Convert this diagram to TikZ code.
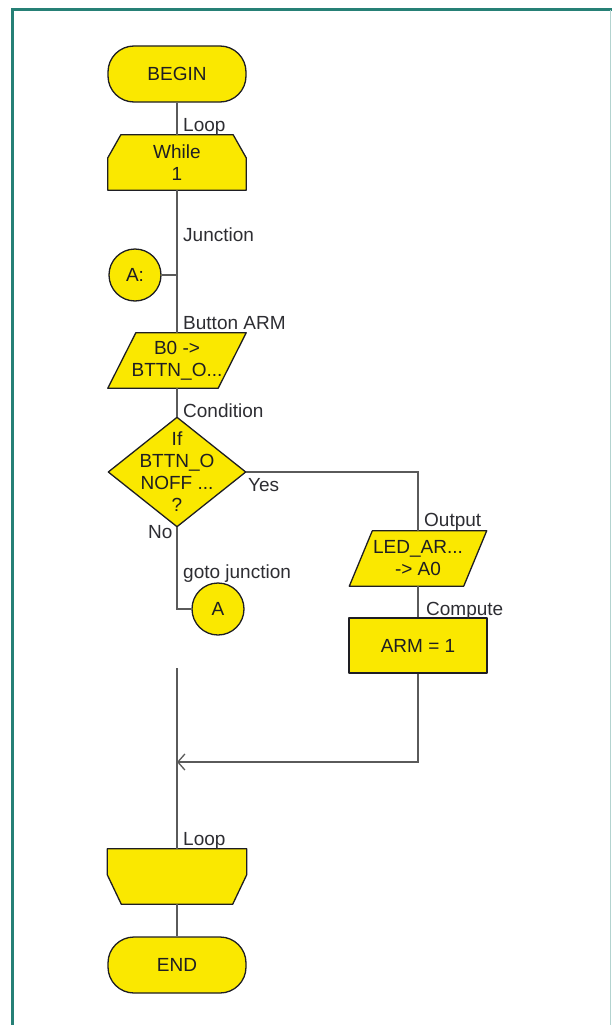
\documentclass[tikz,border=0pt]{standalone}
\usepackage{fontspec}
\setmainfont{Liberation Sans}
\usetikzlibrary{arrows.meta, positioning, calc, backgrounds}

\definecolor{chartyellow}{RGB}{250,232,0}
\definecolor{framegreen}{RGB}{38,128,118}
\definecolor{wiregray}{RGB}{90,90,90}
\definecolor{labelgray}{RGB}{45,45,50}
\definecolor{inkdark}{RGB}{30,30,35}

\tikzset{
  chartfont/.style={font=\fontsize{19}{22}\selectfont},
  body/.style={chartfont, inner sep=0pt, align=center, text=inkdark},
  outline/.style={draw=inkdark, fill=chartyellow, line width=1.3pt, line join=round},
  terminal/.style={body, outline, rounded corners=26pt, minimum width=138pt, minimum height=56pt},
  process/.style={body, outline, rectangle, minimum width=138pt, minimum height=55pt},
  junction/.style={body, outline, circle, minimum size=52pt},
  shapebody/.style={body, rectangle, minimum width=138pt, minimum height=55pt},
  tag/.style={chartfont, text=labelgray, anchor=base west, inner sep=0pt},
  wire/.style={wiregray, line width=1.3pt},
}

\begin{document}
\begin{tikzpicture}[x=1pt, y=-1pt, >=Stealth]
  \useasboundingbox (0,0) rectangle (612,1025);

  % --- Frame ---
  \draw[framegreen, line width=3pt] (12,1025) -- (12,10) -- (612,10);
  \draw[framegreen!35, line width=1pt] (610.5,10) -- (610.5,1025);

  % --- Main column ---
  \node[terminal] (begin) at (177,74) {BEGIN};
  \node[shapebody] (while) at (177,162.5) {While\\1};
  \node[junction] (ajunc) at (135,275) {A:};
  \node[shapebody] (b0) at (177,360.5) {B0 ->\\BTTN\_O...};
  \node[shapebody, minimum width=137pt, minimum height=109pt] (cond) at (177,472) {If\\BTTN\_O\\NOFF ...\\?};
  \node[junction] (gotoa) at (218,609) {A};

  % --- Yes branch ---
  \node[shapebody, minimum width=137pt] (ledout) at (418,558.5) {LED\_AR...\\-> A0};
  \node[process] (arm) at (418,645.5) {ARM = 1};

  % --- Loop end ---
  \node[shapebody, minimum width=139pt] (loopend) at (177,876.5) {};
  \node[terminal] (end) at (177,965) {END};

  % --- Shapes behind the texts ---
  \begin{scope}[on background layer]
    % loop start
    \filldraw[outline] ($(while.north west)+(13,0)$) -- ($(while.north east)+(-13,0)$)
      -- ($(while.north east)+(0,23)$) -- (while.south east) -- (while.south west)
      -- ($(while.north west)+(0,23)$) -- cycle;
    % button input
    \filldraw[outline] ($(b0.north west)+(28,0)$) -- (b0.north east)
      -- ($(b0.south east)+(-28,0)$) -- (b0.south west) -- cycle;
    % condition
    \filldraw[outline] (cond.north) -- (cond.east) -- (cond.south) -- (cond.west) -- cycle;
    % output
    \filldraw[outline] ($(ledout.north west)+(23,0)$) -- (ledout.north east)
      -- ($(ledout.south east)+(-23,0)$) -- (ledout.south west) -- cycle;
    % loop end
    \filldraw[outline] (loopend.north west) -- (loopend.north east)
      -- ($(loopend.north east)+(0,26)$) -- ($(loopend.south east)+(-14,0)$)
      -- ($(loopend.south west)+(14,0)$) -- ($(loopend.north west)+(0,26)$) -- cycle;
  \end{scope}

  % --- Connectors ---
  \coordinate (tap) at (ajunc.east -| while.south);
  \coordinate (restart) at (177,668);
  \coordinate (merge) at (177,762);
  \coordinate (corner) at (arm.south |- merge);

  \draw[wire] (begin.south) -- (while.north);
  \draw[wire] (while.south) -- (b0.north);
  \draw[wire] (ajunc.east) -- (tap);
  \draw[wire] (b0.south) -- (cond.north);
  \draw[wire] (cond.east) -- (cond.east -| ledout.north) -- (ledout.north);
  \draw[wire] (cond.south) -- (cond.south |- gotoa.west) -- (gotoa.west);
  \draw[wire] (ledout.south) -- (arm.north);
  \draw[wire, -{Straight Barb[length=7pt, width=16pt]}] (arm.south) -- (corner) -- (merge);
  \draw[wire] (restart) -- (loopend.north);
  \draw[wire] (loopend.south) -- (end.north);

  % --- Labels ---
  \node[tag] (tloop) at (183,131) {Loop};
  \node[tag] (tjunc) at (183,241) {Junction};
  \node[tag] (tbutton) at (183,329) {Button ARM};
  \node[tag] (tcond) at (183,417) {Condition};
  \node[tag] (tyes) at (248,491) {Yes};
  \node[tag] (tno) at (148,538) {No};
  \node[tag] (tgoto) at (183,578) {goto junction};
  \node[tag] (tout) at (424,526) {Output};
  \node[tag] (tcomp) at (426,615) {Compute};
  \node[tag] (tloopend) at (183,845) {Loop};
\end{tikzpicture}
\end{document}
